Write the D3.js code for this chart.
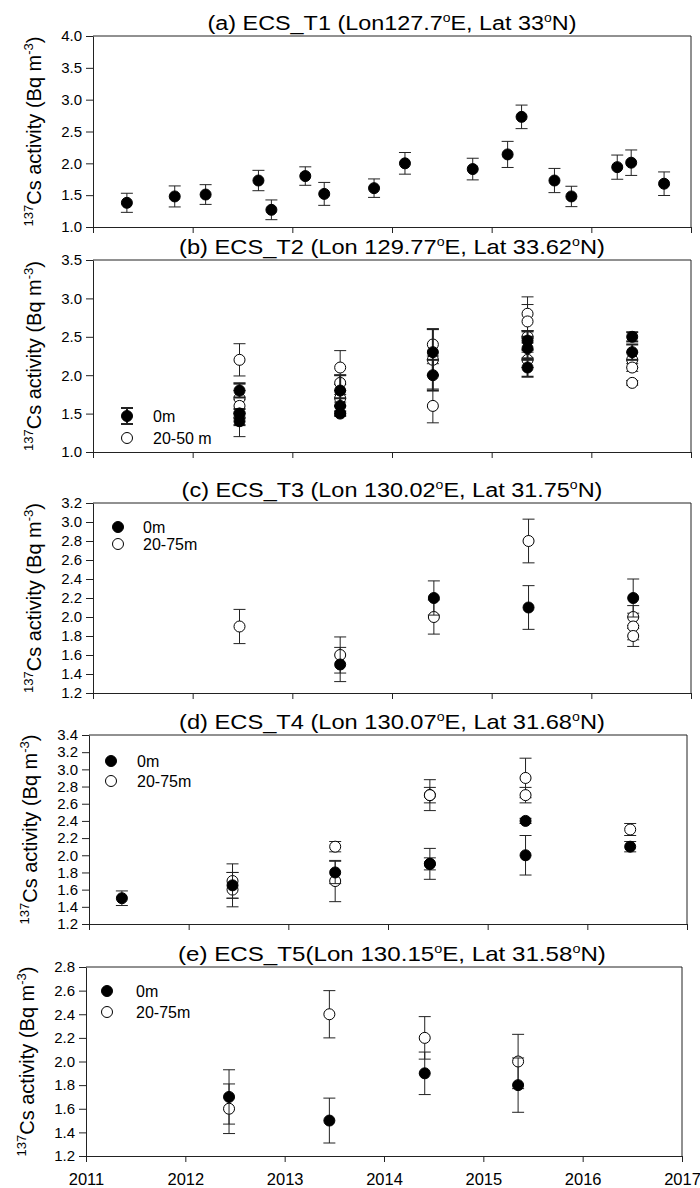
<!DOCTYPE html>
<html>
<head>
<meta charset="utf-8">
<script src="https://cdn.jsdelivr.net/npm/d3@7"></script>
<style>
  body { margin: 0; background: #fff; }
  svg { display: block; }
  text { font-family: "Liberation Sans", Arial, sans-serif; fill: #000; }
</style>
</head>
<body>
<svg id="fig" width="700" height="1188"></svg>
<script>
// ---------------- data ----------------
const yearTicks = [2011, 2012, 2013, 2014, 2015, 2016, 2017];

// (a) ECS_T1 — surface water only
const t1Year = [2011.34, 2011.82, 2012.13, 2012.66, 2012.79, 2013.13, 2013.32, 2013.82, 2014.13,
                2014.81, 2015.16, 2015.30, 2015.63, 2015.80, 2016.26, 2016.40, 2016.73];
const t1Cs   = [1.38, 1.48, 1.51, 1.73, 1.27, 1.80, 1.52, 1.61, 2.00, 1.91, 2.14, 2.73, 1.73, 1.48, 1.94, 2.01, 1.68];
const t1Err  = [0.15, 0.165, 0.155, 0.16, 0.155, 0.145, 0.18, 0.145, 0.17, 0.17, 0.205, 0.185, 0.19, 0.16, 0.19, 0.20, 0.185];
const t1Ticks = [1.0, 1.5, 2.0, 2.5, 3.0, 3.5, 4.0];

// (b) ECS_T2
const t2SurfYear = [2012.47, 2012.47, 2012.47, 2013.48, 2013.48, 2013.48, 2014.41, 2014.41, 2015.36, 2015.36, 2015.36, 2016.41, 2016.41];
const t2SurfCs   = [1.80, 1.40, 1.50, 1.80, 1.60, 1.50, 2.30, 2.00, 2.45, 2.35, 2.10, 2.50, 2.30];
const t2SurfErr  = [0.09, 0.05, 0.06, 0.20, 0.10, 0.03, 0.30, 0.20, 0.12, 0.15, 0.12, 0.06, 0.10];
const t2DeepYear = [2012.47, 2012.47, 2012.47, 2012.47, 2013.48, 2013.48, 2013.48, 2014.41, 2014.41, 2014.41,
                    2015.36, 2015.36, 2015.36, 2015.36, 2016.41, 2016.41, 2016.41];
const t2DeepCs   = [2.20, 1.70, 1.60, 1.50, 2.10, 1.90, 1.70, 2.40, 2.20, 1.60, 2.80, 2.70, 2.50, 2.20, 2.20, 2.10, 1.90];
const t2DeepErr  = [0.21, 0.20, 0.08, 0.30, 0.22, 0.10, 0.05, 0.20, 0.05, 0.22, 0.22, 0.22, 0.08, 0.10, 0.10, 0.05, 0.03];
const t2Ticks = [1.0, 1.5, 2.0, 2.5, 3.0, 3.5];

// (c) ECS_T3
const t3SurfYear = [2013.48, 2014.42, 2015.37, 2016.42];
const t3SurfCs   = [1.50, 2.20, 2.10, 2.20];
const t3SurfErr  = [0.18, 0.18, 0.23, 0.20];
const t3DeepYear = [2012.47, 2013.48, 2014.42, 2015.37, 2016.42, 2016.42, 2016.42];
const t3DeepCs   = [1.90, 1.60, 2.00, 2.80, 2.00, 1.90, 1.80];
const t3DeepErr  = [0.18, 0.19, 0.18, 0.23, 0.12, 0.14, 0.11];
const t3Ticks = [1.2, 1.4, 1.6, 1.8, 2.0, 2.2, 2.4, 2.6, 2.8, 3.0, 3.2];

// (d) ECS_T4
const t4SurfYear = [2011.33, 2012.44, 2013.47, 2014.42, 2014.42, 2015.38, 2015.38, 2016.43];
const t4SurfCs   = [1.50, 1.65, 1.80, 1.90, 1.90, 2.40, 2.00, 2.10];
const t4SurfErr  = [0.085, 0.15, 0.13, 0.07, 0.18, 0.03, 0.23, 0.06];
const t4DeepYear = [2012.44, 2012.44, 2013.47, 2013.47, 2014.42, 2014.42, 2015.38, 2015.38, 2016.43];
const t4DeepCs   = [1.70, 1.60, 2.10, 1.70, 2.70, 2.70, 2.90, 2.70, 2.30];
const t4DeepErr  = [0.20, 0.20, 0.06, 0.24, 0.09, 0.18, 0.23, 0.09, 0.07];
const t4Ticks = [1.2, 1.4, 1.6, 1.8, 2.0, 2.2, 2.4, 2.6, 2.8, 3.0, 3.2, 3.4];

// (e) ECS_T5
const t5SurfYear = [2012.44, 2013.45, 2014.41, 2015.35];
const t5SurfCs   = [1.70, 1.50, 1.90, 1.80];
const t5SurfErr  = [0.23, 0.19, 0.18, 0.23];
const t5DeepYear = [2012.44, 2013.45, 2014.41, 2015.35];
const t5DeepCs   = [1.60, 2.40, 2.20, 2.00];
const t5DeepErr  = [0.21, 0.20, 0.18, 0.23];
const t5Ticks = [1.2, 1.4, 1.6, 1.8, 2.0, 2.2, 2.4, 2.6, 2.8];

// ---------------- helpers ----------------
const zip = (xs, ys, es) => xs.map((x, i) => ({ x, y: ys[i], e: es[i] }));

const panels = [
  { title: ["(a) ECS_T1 (Lon127.7", "E, Lat 33", "N)"], titleW: 369,
    left: 93, right: 691, top: 36, bottom: 227, yDomain: [1.0, 4.0], yTicks: t1Ticks,
    deep: [], surf: zip(t1Year, t1Cs, t1Err), legend: null },
  { title: ["(b) ECS_T2 (Lon 129.77", "E, Lat 33.62", "N)"], titleW: 426,
    left: 93, right: 691, top: 260, bottom: 452, yDomain: [1.0, 3.5], yTicks: t2Ticks,
    deep: zip(t2DeepYear, t2DeepCs, t2DeepErr), surf: zip(t2SurfYear, t2SurfCs, t2SurfErr), surfErrW: 2,
    legend: { labels: ["0m", "20-50 m"], sx: 34, tx: 60, rows: [-36, -14], fromBottom: true, errBar: 8 } },
  { title: ["(c) ECS_T3 (Lon 130.02", "E, Lat 31.75", "N)"], titleW: 421,
    left: 93, right: 691, top: 503, bottom: 693, yDomain: [1.2, 3.2], yTicks: t3Ticks,
    deep: zip(t3DeepYear, t3DeepCs, t3DeepErr), surf: zip(t3SurfYear, t3SurfCs, t3SurfErr),
    legend: { labels: ["0m", "20-75m"], sx: 25, tx: 50, rows: [24, 41] } },
  { title: ["(d) ECS_T4 (Lon 130.07", "E, Lat 31.68", "N)"], titleW: 426,
    left: 89, right: 687, top: 735, bottom: 924, yDomain: [1.2, 3.4], yTicks: t4Ticks,
    deep: zip(t4DeepYear, t4DeepCs, t4DeepErr), surf: zip(t4SurfYear, t4SurfCs, t4SurfErr),
    legend: { labels: ["0m", "20-75m"], sx: 22, tx: 48, rows: [26, 46] } },
  { title: ["(e) ECS_T5(Lon 130.15", "E, Lat 31.58", "N)"], titleW: 428,
    left: 86, right: 682, top: 967, bottom: 1156, yDomain: [1.2, 2.8], yTicks: t5Ticks,
    deep: zip(t5DeepYear, t5DeepCs, t5DeepErr), surf: zip(t5SurfYear, t5SurfCs, t5SurfErr),
    legend: { labels: ["0m", "20-75m"], sx: 21, tx: 50, rows: [24, 45] }, xLabels: true }
];

const svg = d3.select("#fig");
const R = 5.5, CAP = 6, INK = "#222";

function errorBars(g, data, x, y, w) {
  const eb = g.append("g").attr("stroke", INK).attr("stroke-width", w || 1).attr("fill", "none");
  data.forEach(d => {
    const cx = x(d.x), y0 = y(d.y - d.e), y1 = y(d.y + d.e);
    eb.append("line").attr("x1", cx).attr("x2", cx).attr("y1", y0).attr("y2", y1);
    eb.append("line").attr("x1", cx - CAP).attr("x2", cx + CAP).attr("y1", y0).attr("y2", y0);
    eb.append("line").attr("x1", cx - CAP).attr("x2", cx + CAP).attr("y1", y1).attr("y2", y1);
  });
}

function symbols(g, data, x, y, filled) {
  g.append("g").selectAll("circle").data(data).join("circle")
    .attr("cx", d => x(d.x)).attr("cy", d => y(d.y)).attr("r", R)
    .attr("fill", filled ? "#000" : "#fff").attr("stroke", "#000").attr("stroke-width", 1);
}

function squeezeTo(sel, cx, target) {
  const w = sel.node().getComputedTextLength();
  if (w > 0) sel.attr("transform", `translate(${cx},0) scale(${target / w},1) translate(${-cx},0)`);
}

panels.forEach(p => {
  const x = d3.scaleLinear().domain([2011, 2017]).range([p.left, p.right]);
  const y = d3.scaleLinear().domain(p.yDomain).range([p.bottom, p.top]);
  const g = svg.append("g");

  // title with superscript degree marks
  const cx = 392;
  const t = g.append("text").attr("x", cx).attr("y", p.top - 6)
    .attr("text-anchor", "middle").attr("font-size", 20);
  t.append("tspan").text(p.title[0]);
  t.append("tspan").attr("dy", -8).attr("font-size", 12).text("o");
  t.append("tspan").attr("dy", 8).text(p.title[1]);
  t.append("tspan").attr("dy", -8).attr("font-size", 12).text("o");
  t.append("tspan").attr("dy", 8).text(p.title[2]);
  squeezeTo(t, cx, p.titleW);

  // y axis label
  const ly = (p.top + p.bottom) / 2, lx = p.left - 52;
  const yl = g.append("text").attr("transform", `translate(${lx},${ly}) rotate(-90)`)
    .attr("text-anchor", "middle").attr("font-size", 20);
  yl.append("tspan").attr("font-size", 13).attr("dy", -8).text("137");
  yl.append("tspan").attr("dy", 8).text("Cs activity (Bq m");
  yl.append("tspan").attr("font-size", 13).attr("dy", -8).text("-3");
  yl.append("tspan").attr("dy", 8).text(")");

  // axes
  const ya = g.append("g").attr("transform", `translate(${p.left},0)`)
    .call(d3.axisLeft(y).tickValues(p.yTicks).tickFormat(d3.format(".1f")).tickSize(7).tickSizeOuter(0).tickPadding(4));
  ya.selectAll("text").attr("font-size", 15).attr("font-family", null);
  const xa = g.append("g").attr("transform", `translate(0,${p.bottom})`)
    .call(d3.axisBottom(x).tickValues(yearTicks).tickSize(6).tickSizeOuter(0).tickPadding(11)
      .tickFormat(p.xLabels ? d3.format("d") : () => ""));
  xa.selectAll("text").attr("font-size", 16.5).attr("font-family", null);
  g.selectAll(".domain, .tick line").attr("stroke", INK);
  // frame top and right
  g.append("path").attr("fill", "none").attr("stroke", INK)
    .attr("d", `M${p.left},${p.top}H${p.right}V${p.bottom}`);

  // data
  errorBars(g, p.deep, x, y, 1);
  symbols(g, p.deep, x, y, false);
  errorBars(g, p.surf, x, y, p.surfErrW || 1);
  symbols(g, p.surf, x, y, true);

  // legend
  if (p.legend) {
    const L = p.legend;
    const base = L.fromBottom ? p.bottom : p.top;
    L.labels.forEach((lab, i) => {
      const sy = base + L.rows[i], sx = p.left + L.sx;
      if (i === 0 && L.errBar) {
        g.append("line").attr("x1", sx).attr("x2", sx).attr("y1", sy - L.errBar).attr("y2", sy + L.errBar).attr("stroke", INK).attr("stroke-width", 2);
        [sy - L.errBar, sy + L.errBar].forEach(v =>
          g.append("line").attr("x1", sx - CAP).attr("x2", sx + CAP).attr("y1", v).attr("y2", v).attr("stroke", INK).attr("stroke-width", 2));
      }
      g.append("circle").attr("cx", sx).attr("cy", sy).attr("r", R)
        .attr("fill", i === 0 ? "#000" : "#fff").attr("stroke", "#000");
      g.append("text").attr("x", p.left + L.tx).attr("y", sy + 6).attr("font-size", 16).text(lab);
    });
  }
});
</script>
</body>
</html>
